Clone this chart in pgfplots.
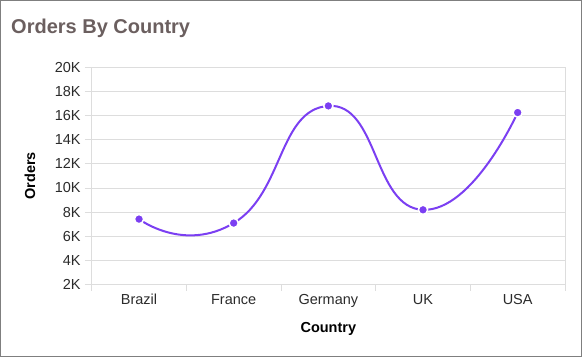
\documentclass[border=0pt]{standalone}
\usepackage{pgfplots}
\pgfplotsset{compat=1.18}
\usepackage{fontspec}
\setmainfont{Liberation Sans}
\definecolor{linec}{HTML}{7B3FF2}
\definecolor{titlec}{HTML}{6B5F5F}
\definecolor{gridc}{HTML}{DDDDDD}
\definecolor{framec}{HTML}{7F7F7F}
\definecolor{textc}{HTML}{2B2B2B}
\begin{document}
\begin{tikzpicture}
\begin{axis}[name=ax, anchor=south west, at={(0pt,0pt)}, scale only axis,
  width=473.3pt, height=217.2pt,
  xmin=-0.5, xmax=4.5, ymin=2000, ymax=20000,
  xtick={0,1,2,3,4}, xticklabels={Brazil,France,Germany,UK,USA},
  minor xtick={-0.5,0.5,1.5,2.5,3.5,4.5},
  ytick={2000,4000,6000,8000,10000,12000,14000,16000,18000,20000},
  yticklabels={2K,4K,6K,8K,10K,12K,14K,16K,18K,20K},
  scaled y ticks=false,
  tick align=outside, tick pos=left,
  major tick length=7pt, minor tick length=6pt,
  major x tick style={draw=none},
  minor x tick style={gridc, line width=0.8pt},
  major y tick style={gridc, line width=0.8pt},
  axis line style={gridc, line width=0.8pt},
  ymajorgrids, major grid style={gridc, line width=0.8pt},
  every tick label/.append style={font=\fontsize{14.5}{16}\selectfont, text=textc},
  yticklabel style={xshift=-0.5pt},
  xticklabel style={yshift=1pt},
  xlabel={Country}, ylabel={Orders},
  xlabel style={font=\bfseries\fontsize{14.5}{16}\selectfont, text=black, at={(axis description cs:0.5,0)}, anchor=center, yshift=-44.5pt},
  ylabel style={font=\bfseries\fontsize{14.5}{16}\selectfont, text=black, at={(axis description cs:0,0.5)}, anchor=center, rotate=0, yshift=61.7pt},
]
\addplot[linec, line width=2pt, smooth, tension=0.95, mark=*, mark size=4.6pt,
  mark options={fill=linec, draw=white, line width=1.5pt}]
  coordinates {(0,7420) (1,7090) (2,16800) (3,8190) (4,16250)};
\end{axis}
\path (ax.south west) ++(-91.7pt,-72.5pt) coordinate (o);
\draw[framec, line width=1.2pt] ([shift={(0.6pt,0.6pt)}]o) rectangle ([shift={(581.4pt,356.4pt)}]o);
\node[anchor=base west, font=\fontsize{20}{24}\selectfont\bfseries, text=titlec, inner sep=0] at ([shift={(11pt,324pt)}]o) {Orders By Country};
\end{tikzpicture}
\end{document}
